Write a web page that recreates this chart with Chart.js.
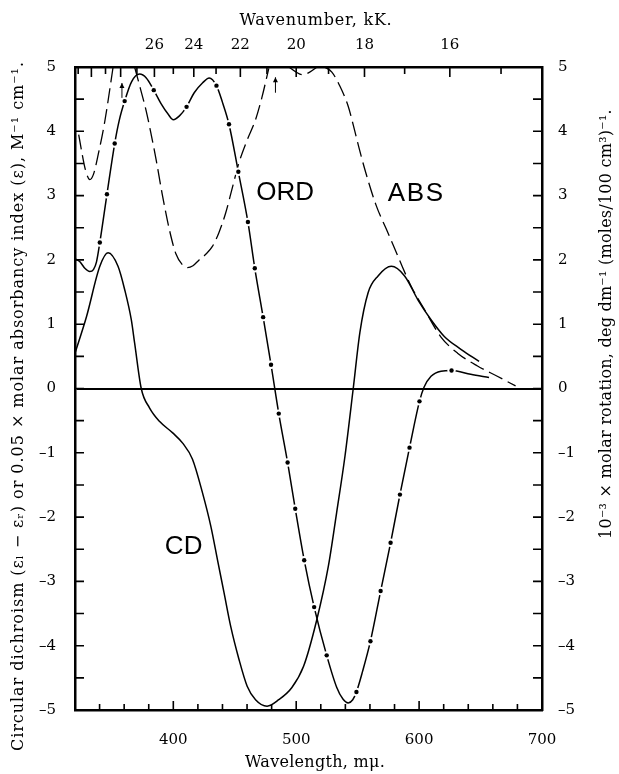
<!DOCTYPE html>
<html><head><meta charset="utf-8">
<script src="https://cdn.jsdelivr.net/npm/chart.js@4.4.0/dist/chart.umd.min.js"></script>
<style>html,body{margin:0;padding:0;background:#fff;}canvas{display:block;}</style>
</head><body>
<canvas id="c" width="619" height="774"></canvas>
<script>
// ---------- data ----------
const cdWavelength = [320, 329.4, 340.2, 346.9, 355, 360.4, 365.8, 368.5, 373.9, 380.6, 388.7, 399.5, 407.6, 415.6, 423.7, 430.5, 435.9, 441.3, 446.7, 453.4, 460.1, 466.9, 476.3, 485.8, 496.5, 506, 516.7, 526.2, 532.9, 539.7, 546.4, 551.8, 558.5, 566.6, 577.4, 588.2, 599, 609.7, 620.5, 634, 648.8];
const cdValue = [0.55, 1.12, 1.90, 2.11, 1.90, 1.54, 1.07, 0.71, 0.0, -0.30, -0.51, -0.69, -0.85, -1.10, -1.62, -2.14, -2.66, -3.18, -3.70, -4.21, -4.63, -4.84, -4.94, -4.84, -4.65, -4.32, -3.60, -2.76, -1.93, -1.05, 0.0, 0.87, 1.49, 1.75, 1.90, 1.75, 1.38, 1.07, 0.81, 0.61, 0.42];

const ordWavelength = [320, 324, 328, 332, 335, 337.5, 340.2, 346, 352.3, 356, 360.4, 366, 372.6, 378, 384.1, 390, 396, 400, 405, 410.8, 417, 423.7, 429.2, 435.1, 440, 445.3, 452.9, 460.7, 466.3, 473.1, 479.5, 485.8, 493, 499.2, 506.5, 514.6, 524.8, 533, 538, 542.3, 546, 549, 554, 560.4, 568.7, 576.8, 584.4, 592.2, 600.3, 604, 609.7, 617.8, 626.4, 642, 656.9];
const ordValue = [2.02, 1.97, 1.87, 1.82, 1.85, 1.97, 2.27, 3.02, 3.81, 4.17, 4.47, 4.77, 4.89, 4.83, 4.64, 4.43, 4.26, 4.18, 4.24, 4.38, 4.60, 4.75, 4.83, 4.71, 4.45, 4.11, 3.37, 2.59, 1.87, 1.11, 0.37, -0.39, -1.15, -1.87, -2.67, -3.40, -4.15, -4.65, -4.83, -4.89, -4.84, -4.72, -4.40, -3.93, -3.15, -2.40, -1.65, -0.92, -0.20, 0.02, 0.19, 0.27, 0.28, 0.22, 0.17];

const ordDotWavelength = [340.2, 346, 352.3, 360.4, 384.1, 410.8, 435.1, 445.3, 452.9, 460.7, 466.3, 473.1, 479.5, 485.8, 493, 499.2, 506.5, 514.6, 524.8, 549, 560.4, 568.7, 576.8, 584.4, 592.2, 600.3, 626.4];
const ordDotValue = [2.27, 3.02, 3.81, 4.47, 4.64, 4.38, 4.71, 4.11, 3.37, 2.59, 1.87, 1.11, 0.37, -0.39, -1.15, -1.87, -2.67, -3.40, -4.15, -4.72, -3.93, -3.15, -2.40, -1.65, -0.92, -0.20, 0.28];

// null = off scale (above 5)
const absWavelength = [323, 325.4, 328.5, 332.1, 335, 338.9, 344.3, 351, 360, 368.5, 373, 378, 382, 386, 391, 396.8, 402, 407.6, 411.6, 416, 421, 426, 431.8, 437, 442.6, 448, 453.4, 460, 466.9, 472, 477.7, 486, 494, 500, 505, 511, 517, 520, 523, 529, 535.6, 542.3, 546.4, 551, 555.8, 565.2, 574.7, 584, 593.5, 604.3, 617.8, 631.3, 647.5, 663.6, 678.5];
const absValue = [3.95, 3.69, 3.40, 3.25, 3.33, 3.64, 4.16, 5.0, null, 5.0, 4.68, 4.31, 3.95, 3.56, 3.02, 2.47, 2.10, 1.92, 1.88, 1.91, 2.0, 2.08, 2.21, 2.42, 2.73, 3.12, 3.51, 3.86, 4.18, 4.52, 4.98, null, 5.0, 4.92, 4.88, 4.92, 5.0, null, 5.0, 4.92, 4.70, 4.39, 4.10, 3.75, 3.41, 2.84, 2.42, 2.0, 1.59, 1.23, 0.80, 0.55, 0.35, 0.19, 0.04];

const wavenumberTicks = [31, 30, 29, 28, 27, 26, 25, 24, 23, 22, 21, 20, 19, 18, 17, 16, 15];
const wavenumberLabels = [26, 24, 22, 20, 18, 16];
const wavelengthLabels = [400, 500, 600, 700];

const curveNames = ['ORD', 'ABS', 'CD'];
const curveNameWavelength = [491, 597.6, 408.5];
const curveNameValue = [3.04, 3.02, -2.47];

const arrowWavelength = [358.2, 483.1];
const arrowTip = [4.75, 4.84];
const arrowTail = [4.52, 4.60];

const titleTop = 'Wavenumber, kK.';
const titleBottom = 'Wavelength, m\u03BC.';
const titleLeft = 'Circular dichroism (\u03B5\u2097 \u2212 \u03B5\u1D63) or 0.05 \u00D7 molar absorbancy index (\u03B5), M\u207B\u00B9 cm\u207B\u00B9.';
const titleRight = '10\u207B\u00B3 \u00D7 molar rotation, deg dm\u207B\u00B9 (moles/100 cm\u00B3)\u207B\u00B9.';

// ---------- build ----------
const pts = (xs, ys) => xs.map((x, i) => ({x: x, y: ys[i]}));
const SERIF = '"DejaVu Serif", serif';

function fitText(ctx, text, cx, cy, width, angle) {
  ctx.save();
  ctx.letterSpacing = '0px';
  const w = ctx.measureText(text).width;
  const n = [...text].length;
  const sp = Math.max(0, (width - w) / n);
  if ('letterSpacing' in ctx) ctx.letterSpacing = sp.toFixed(2) + 'px';
  ctx.translate(cx, cy);
  if (angle) ctx.rotate(angle);
  ctx.textAlign = 'left';
  const real = ctx.measureText(text).width;
  ctx.fillText(text, -real / 2, 0);
  ctx.restore();
}

const inwardTicks = {
  id: 'inwardTicks',
  afterDraw(chart) {
    const {ctx, chartArea: a, scales} = chart;
    ctx.save();
    ctx.strokeStyle = '#000';
    ctx.lineWidth = 1.6;
    ctx.beginPath();
    scales.y.ticks.forEach(t => {
      const p = scales.y.getPixelForValue(t.value);
      ctx.moveTo(a.left, p); ctx.lineTo(a.left + 9, p);
    });
    scales.y2.ticks.forEach(t => {
      const p = scales.y2.getPixelForValue(t.value);
      ctx.moveTo(a.right, p); ctx.lineTo(a.right - 9, p);
    });
    scales.x.ticks.forEach(t => {
      const p = scales.x.getPixelForValue(t.value);
      const len = (t.value % 100 === 0) ? 9 : 6;
      ctx.moveTo(p, a.bottom); ctx.lineTo(p, a.bottom - len);
    });
    scales.x2.ticks.forEach(t => {
      const p = scales.x2.getPixelForValue(t.value);
      const k = Math.round(10000 / t.value);
      const len = (k % 2 === 0) ? 10 : 7;
      ctx.moveTo(p, a.top); ctx.lineTo(p, a.top + len);
    });
    ctx.stroke();
    ctx.restore();
  }
};

const textLayer = {
  id: 'textLayer',
  afterDraw(chart) {
    const {ctx, scales: {x, y}} = chart;
    ctx.save();
    ctx.fillStyle = '#000';
    ctx.textBaseline = 'middle';
    ctx.font = '16px ' + SERIF;
    fitText(ctx, titleTop, 316, 21, 153, 0);
    fitText(ctx, titleBottom, 315, 763, 140, 0);
    fitText(ctx, titleLeft, 19, 406, 690, -Math.PI / 2);
    fitText(ctx, titleRight, 607, 324, 430, -Math.PI / 2);

    ctx.textAlign = 'center';
    ctx.font = '26px "Liberation Sans", Arial, sans-serif';
    curveNames.forEach((n, i) => {
      fitText(ctx, n, x.getPixelForValue(curveNameWavelength[i]), y.getPixelForValue(curveNameValue[i]), n.length * 19, 0);
    });

    ctx.strokeStyle = '#000';
    ctx.lineWidth = 1;
    arrowWavelength.forEach((w, i) => {
      const px = x.getPixelForValue(w);
      const t = y.getPixelForValue(arrowTip[i]);
      const b = y.getPixelForValue(arrowTail[i]);
      ctx.beginPath(); ctx.moveTo(px, b); ctx.lineTo(px, t); ctx.stroke();
      ctx.beginPath(); ctx.moveTo(px, t); ctx.lineTo(px - 2.5, t + 5); ctx.lineTo(px + 2.5, t + 5); ctx.closePath(); ctx.fill();
    });
    ctx.restore();
  }
};

const tickFont = {family: SERIF, size: 15};
const yLabel = v => Number.isInteger(v) ? (v < 0 ? '\u2013' + Math.abs(v) : String(v)) : '';

new Chart(document.getElementById('c'), {
  type: 'scatter',
  data: {
    datasets: [
      {label: 'ORD dots', data: pts(ordDotWavelength, ordDotValue), showLine: false,
       pointRadius: 2.2, pointBackgroundColor: '#000', pointBorderWidth: 0, order: 0},
      {label: 'ORD dot gaps', data: pts(ordDotWavelength, ordDotValue), showLine: false,
       pointRadius: 4.2, pointBackgroundColor: '#fff', pointBorderWidth: 0, order: 1},
      {label: 'ORD', data: pts(ordWavelength, ordValue), showLine: true, borderColor: '#000',
       borderWidth: 1.5, pointRadius: 0, cubicInterpolationMode: 'monotone', order: 2},
      {label: 'ABS', data: pts(absWavelength, absValue), showLine: true, borderColor: '#000',
       borderWidth: 1.3, borderDash: [15, 6], pointRadius: 0, cubicInterpolationMode: 'monotone', spanGaps: false, order: 3},
      {label: 'CD', data: pts(cdWavelength, cdValue), showLine: true, borderColor: '#000',
       borderWidth: 1.5, pointRadius: 0, cubicInterpolationMode: 'monotone', order: 4}
    ]
  },
  options: {
    responsive: false,
    animation: false,
    devicePixelRatio: 1,
    layout: {padding: 0},
    plugins: {legend: {display: false}, tooltip: {enabled: false}},
    scales: {
      x: {
        type: 'linear', position: 'bottom', min: 320, max: 700,
        afterFit: s => { s.height = 64; },
        ticks: {stepSize: 20, autoSkip: false, maxRotation: 0, padding: 21, color: '#000', font: tickFont,
                callback: v => wavelengthLabels.includes(v) ? String(v) : ''},
        grid: {display: true, drawOnChartArea: false, drawTicks: false},
        border: {display: true, color: '#000', width: 2.5}
      },
      x2: {
        type: 'linear', position: 'top', min: 320, max: 700,
        afterFit: s => { s.height = 67; },
        afterBuildTicks: s => { s.ticks = wavenumberTicks.map(k => ({value: 10000 / k})); },
        ticks: {autoSkip: false, maxRotation: 0, padding: 13, color: '#000', font: tickFont,
                callback: v => { const k = Math.round(10000 / v); return wavenumberLabels.includes(k) ? String(k) : ''; }},
        grid: {display: true, drawOnChartArea: false, drawTicks: false},
        border: {display: true, color: '#000', width: 2.5}
      },
      y: {
        type: 'linear', position: 'left', min: -5, max: 5,
        afterFit: s => { s.width = 75; },
        ticks: {stepSize: 0.5, autoSkip: false, padding: 19, color: '#000', font: tickFont, callback: yLabel},
        grid: {display: true, drawTicks: false, lineWidth: 2,
               color: c => (c.tick && c.tick.value === 0) ? '#000' : 'rgba(0,0,0,0)'},
        border: {display: true, color: '#000', width: 2.5}
      },
      y2: {
        type: 'linear', position: 'right', min: -5, max: 5,
        afterFit: s => { s.width = 77; },
        ticks: {stepSize: 0.5, autoSkip: false, padding: 16, color: '#000', font: tickFont, callback: yLabel},
        grid: {display: true, drawOnChartArea: false, drawTicks: false},
        border: {display: true, color: '#000', width: 2.5}
      }
    }
  },
  plugins: [inwardTicks, textLayer]
});
</script>
</body></html>
